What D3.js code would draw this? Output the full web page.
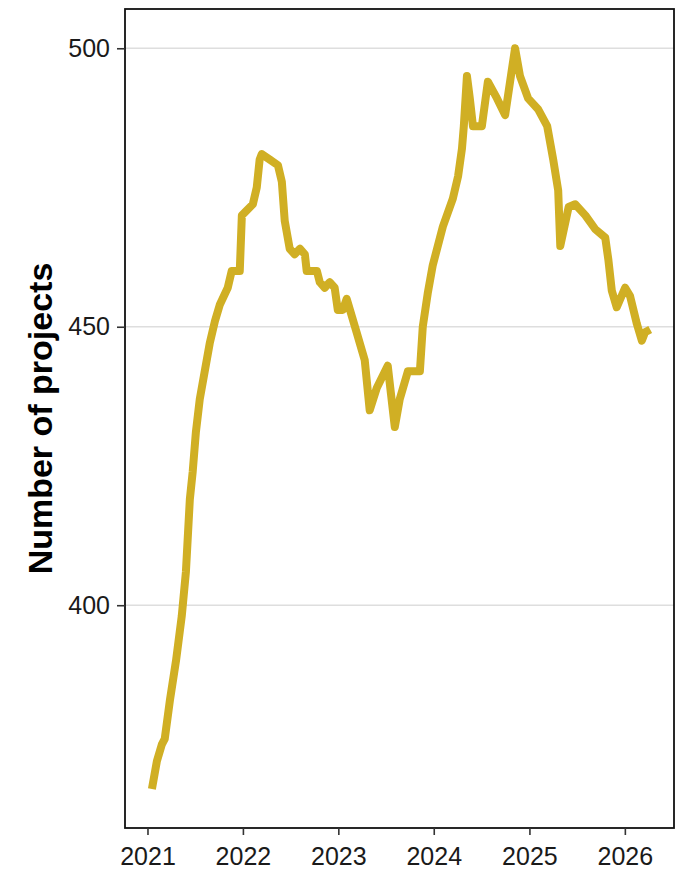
<!DOCTYPE html>
<html>
<head>
<meta charset="utf-8">
<script src="https://cdn.jsdelivr.net/npm/d3@7"></script>
<style>
  html, body { margin: 0; padding: 0; background: #ffffff; }
  svg { display: block; }
</style>
</head>
<body>
<svg id="chart" width="679" height="879"></svg>
<script>
// ---- data ----
const dates = [
  "2021-01-18","2021-02-06","2021-02-25","2021-03-08","2021-03-28","2021-04-20","2021-05-12","2021-05-28",
  "2021-06-12","2021-06-23","2021-07-05","2021-07-20","2021-08-08","2021-08-27","2021-09-16","2021-10-05",
  "2021-11-04","2021-11-19","2021-12-20","2021-12-28","2022-02-08","2022-02-23","2022-03-06","2022-03-14",
  "2022-04-14","2022-05-15","2022-05-30","2022-06-10","2022-06-29","2022-07-18","2022-08-07","2022-08-26",
  "2022-09-02","2022-10-11","2022-10-22","2022-11-10","2022-11-29","2022-12-18","2022-12-30","2023-01-18",
  "2023-02-02","2023-02-21","2023-03-12","2023-04-12","2023-05-01","2023-05-28","2023-07-09","2023-08-05",
  "2023-08-24","2023-09-24","2023-11-09","2023-11-20","2023-12-09","2023-12-28","2024-02-05","2024-03-14",
  "2024-04-03","2024-04-18","2024-04-25","2024-05-07","2024-05-18","2024-05-30","2024-07-03","2024-07-26",
  "2024-08-30","2024-09-30","2024-10-19","2024-11-07","2024-11-26","2024-12-27","2025-02-04","2025-03-10",
  "2025-04-02","2025-04-21","2025-04-29","2025-05-31","2025-06-25","2025-08-03","2025-09-10","2025-10-18",
  "2025-10-30","2025-11-12","2025-12-01","2026-01-02","2026-01-21","2026-02-16","2026-03-07","2026-03-19",
  "2026-04-08"
];
const projects = [
  367,372,375,376,383,390,398,406,
  419,424,431,437,442,447,451,454,
  457,460,460,470,472,475,480,481,
  480,479,476,469,464,463,464,463,
  460,460,458,457,458,457,453,453,
  455,452,449,444,435,439,443,432,
  437,442,442,450,456,461,468,473,
  477,482,486,495,491,486,486,494,
  491,488,494,500,495,491,489,486,
  480,474.5,464.5,471.5,472,470,467.5,466,
  462,456.5,453.5,457,455.5,450.5,447.5,449,
  449.5
];
const yTicks = [400, 450, 500];
const xTickYears = [2021, 2022, 2023, 2024, 2025, 2026];
const yTitle = "Number of projects";

// ---- layout ----
const parse = d3.timeParse("%Y-%m-%d");
const data = dates.map((d, i) => ({ date: parse(d), value: projects[i] }));

const panel = { left: 125, right: 674, top: 9, bottom: 828 };
const svg = d3.select("#chart");

const x = d3.scaleTime()
  .domain([parse("2020-10-07"), parse("2026-07-08")])
  .range([panel.left, panel.right]);
const y = d3.scaleLinear()
  .domain([360.0, 507.05])
  .range([panel.bottom, panel.top]);

const font = "'Liberation Sans', Arial, sans-serif";

// gridlines
svg.append("g").selectAll("line").data(yTicks).join("line")
  .attr("x1", panel.left).attr("x2", panel.right)
  .attr("y1", d => y(d)).attr("y2", d => y(d))
  .attr("stroke", "#dedede").attr("stroke-width", 1.5);

// line
const line = d3.line().x(d => x(d.date)).y(d => y(d.value));
svg.append("path").datum(data)
  .attr("d", line)
  .attr("fill", "none")
  .attr("stroke", "#D0AF24")
  .attr("stroke-width", 8)
  .attr("stroke-linejoin", "round")
  .attr("stroke-linecap", "butt");

// panel border
svg.append("rect")
  .attr("x", panel.left).attr("y", panel.top)
  .attr("width", panel.right - panel.left).attr("height", panel.bottom - panel.top)
  .attr("fill", "none").attr("stroke", "#111").attr("stroke-width", 1.8);

// x axis
const xAxis = d3.axisBottom(x)
  .tickValues(xTickYears.map(yr => new Date(yr, 0, 1)))
  .tickFormat(d3.timeFormat("%Y"))
  .tickSize(7).tickPadding(12).tickSizeOuter(0);
const gx = svg.append("g").attr("transform", `translate(0,${panel.bottom})`).call(xAxis);
gx.select(".domain").remove();
gx.selectAll(".tick line").attr("stroke", "#333").attr("stroke-width", 1.6);
gx.selectAll(".tick text").attr("fill", "#1a1a1a").style("font-family", font).style("font-size", "25px");

// y axis
const yAxis = d3.axisLeft(y).tickValues(yTicks).tickSize(8).tickPadding(7).tickSizeOuter(0);
const gy = svg.append("g").attr("transform", `translate(${panel.left},0)`).call(yAxis);
gy.select(".domain").remove();
gy.selectAll(".tick line").attr("stroke", "#333").attr("stroke-width", 1.6);
gy.selectAll(".tick text").attr("fill", "#1a1a1a").style("font-family", font).style("font-size", "25px");

// y title
svg.append("text")
  .attr("transform", `translate(52,${(panel.top + panel.bottom) / 2}) rotate(-90)`)
  .attr("text-anchor", "middle")
  .style("font-family", font).style("font-size", "34px").style("font-weight", "bold")
  .attr("fill", "#000")
  .text(yTitle);
</script>
</body>
</html>
